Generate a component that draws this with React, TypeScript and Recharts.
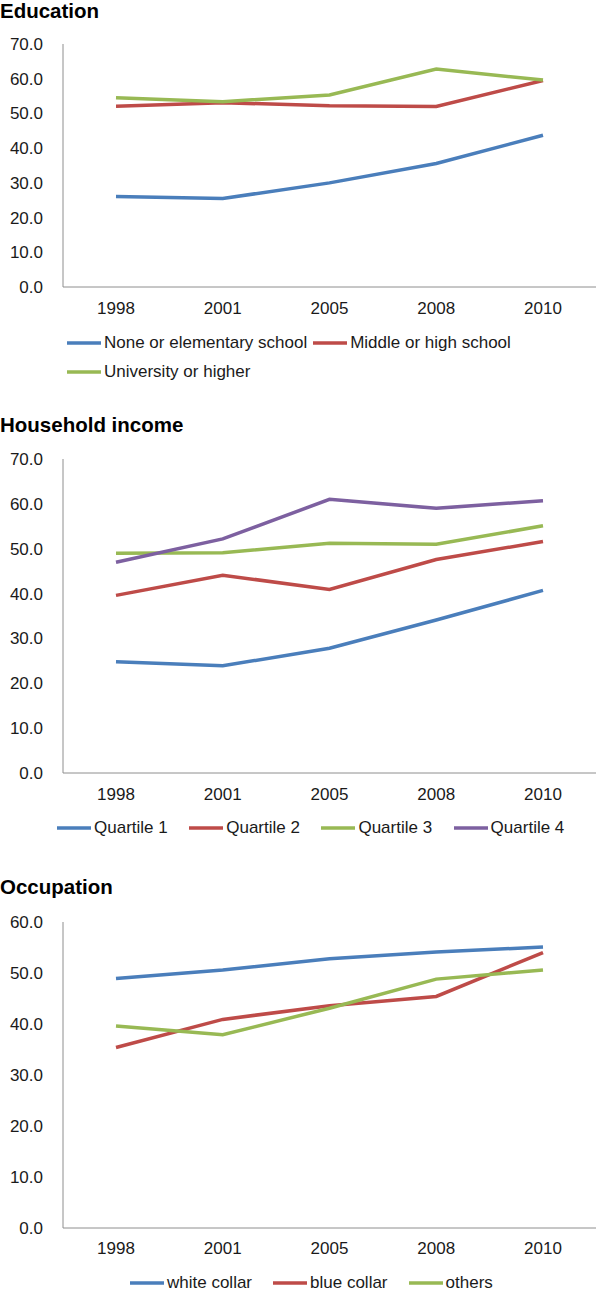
import React from "react";
import { LineChart, Line, XAxis, YAxis, Legend } from "recharts";

const YEARS = ["1998", "2001", "2005", "2008", "2010"];

const EDU_NONE = [26.1, 25.5, 30.0, 35.6, 43.7];
const EDU_MIDDLE = [52.1, 53.1, 52.2, 52.0, 59.5];
const EDU_UNIV = [54.5, 53.4, 55.3, 62.8, 59.6];

const INC_Q1 = [24.8, 23.9, 27.8, 34.1, 40.7];
const INC_Q2 = [39.6, 44.1, 40.9, 47.6, 51.6];
const INC_Q3 = [49.0, 49.1, 51.2, 51.0, 55.1];
const INC_Q4 = [47.0, 52.2, 61.0, 59.0, 60.7];

const OCC_WHITE = [48.9, 50.6, 52.8, 54.1, 55.1];
const OCC_BLUE = [35.4, 40.9, 43.6, 45.4, 54.0];
const OCC_OTHERS = [39.6, 37.9, 43.1, 48.8, 50.6];

const TICKS_70 = [0, 10, 20, 30, 40, 50, 60, 70];
const TICKS_60 = [0, 10, 20, 30, 40, 50, 60];

const BLUE = "#4a7ebb";
const RED = "#be4b48";
const GREEN = "#98b954";
const PURPLE = "#7d60a0";

const FONT = '"Liberation Sans", Arial, Helvetica, sans-serif';
const AXIS = "#8e8e8e";
const TEXT = "#1a1a1a";

type Series = { key: string; name: string; values: number[]; color: string };

type PanelProps = {
  title: string;
  series: Series[];
  ticks: number[];
  top: number;
  height: number;
  marginTop: number;
  marginBottom: number;
  titleTop: number;
  tickMargin: number;
  legendTop: number;
  legendLeft: number;
  legendWidth: number;
  legendGap: number;
  legendRowH: number;
  legendRows: number;
};

function Panel(p: PanelProps) {
  const data = YEARS.map((year, i) => {
    const row: Record<string, string | number> = { year };
    p.series.forEach((s) => (row[s.key] = s.values[i]));
    return row;
  });
  const legendH = p.legendRowH * p.legendRows;

  const renderLegend = () => (
    <div
      style={{
        display: "flex",
        flexWrap: "wrap",
        columnGap: p.legendGap,
        width: p.legendWidth,
        fontFamily: FONT,
        fontSize: 17,
        color: TEXT,
      }}
    >
      {p.series.map((s) => (
        <div key={s.key} style={{ display: "flex", alignItems: "center", height: p.legendRowH }}>
          <svg width={34} height={4} style={{ marginRight: 3 }}>
            <line x1={0} y1={2} x2={34} y2={2} stroke={s.color} strokeWidth={3.5} />
          </svg>
          <span>{s.name}</span>
        </div>
      ))}
    </div>
  );

  return (
    <div style={{ position: "absolute", left: 0, top: p.top, width: 600, height: p.height }}>
      <div
        style={{
          position: "absolute",
          left: 0,
          top: p.titleTop,
          fontFamily: FONT,
          fontWeight: "bold",
          fontSize: 20.5,
          lineHeight: "22px",
          color: "#000",
          zIndex: 2,
        }}
      >
        {p.title}
      </div>
      <LineChart
        width={600}
        height={p.height}
        data={data}
        margin={{ top: p.marginTop, right: 4, bottom: p.marginBottom, left: 0 }}
      >
        <XAxis
          dataKey="year"
          stroke={AXIS}
          tickLine={false}
          tickMargin={p.tickMargin}
          padding={{ left: 53, right: 53 }}
          tick={{ fill: TEXT, fontSize: 17, fontFamily: FONT }}
        />
        <YAxis
          width={63}
          domain={[0, p.ticks[p.ticks.length - 1]]}
          ticks={p.ticks}
          stroke={AXIS}
          tickLine={false}
          tickMargin={14}
          tickFormatter={(v: number) => v.toFixed(1)}
          tick={{ fill: TEXT, fontSize: 17, fontFamily: FONT }}
        />
        {p.series.map((s) => (
          <Line
            key={s.key}
            type="linear"
            dataKey={s.key}
            name={s.name}
            stroke={s.color}
            strokeWidth={3.5}
            dot={false}
            activeDot={false}
            isAnimationActive={false}
          />
        ))}
        <Legend
          verticalAlign="bottom"
          content={renderLegend}
          wrapperStyle={{
            left: p.legendLeft,
            top: p.legendTop,
            bottom: "auto",
            width: p.legendWidth,
            height: legendH,
          }}
        />
      </LineChart>
    </div>
  );
}

export default function App() {
  return (
    <div
      style={{
        position: "absolute",
        left: 0,
        top: 0,
        width: 600,
        height: 1292,
        background: "#fff",
        overflow: "hidden",
      }}
    >
      <Panel
        title="Education"
        series={[
          { key: "none", name: "None or elementary school", values: EDU_NONE, color: BLUE },
          { key: "middle", name: "Middle or high school", values: EDU_MIDDLE, color: RED },
          { key: "univ", name: "University or higher", values: EDU_UNIV, color: GREEN },
        ]}
        ticks={TICKS_70}
        top={0}
        height={400}
        marginTop={44}
        marginBottom={25}
        titleTop={0}
        tickMargin={9}
        legendTop={328}
        legendLeft={67}
        legendWidth={460}
        legendGap={6}
        legendRowH={29}
        legendRows={2}
      />
      <Panel
        title="Household income"
        series={[
          { key: "q1", name: "Quartile 1", values: INC_Q1, color: BLUE },
          { key: "q2", name: "Quartile 2", values: INC_Q2, color: RED },
          { key: "q3", name: "Quartile 3", values: INC_Q3, color: GREEN },
          { key: "q4", name: "Quartile 4", values: INC_Q4, color: PURPLE },
        ]}
        ticks={TICKS_70}
        top={400}
        height={460}
        marginTop={59}
        marginBottom={29}
        titleTop={14}
        tickMargin={9}
        legendTop={414}
        legendLeft={57}
        legendWidth={540}
        legendGap={21.5}
        legendRowH={28}
        legendRows={1}
      />
      <Panel
        title="Occupation"
        series={[
          { key: "white", name: "white collar", values: OCC_WHITE, color: BLUE },
          { key: "blue", name: "blue collar", values: OCC_BLUE, color: RED },
          { key: "others", name: "others", values: OCC_OTHERS, color: GREEN },
        ]}
        ticks={TICKS_60}
        top={860}
        height={432}
        marginTop={62}
        marginBottom={6}
        titleTop={16}
        tickMargin={8}
        legendTop={409}
        legendLeft={130}
        legendWidth={460}
        legendGap={21}
        legendRowH={28}
        legendRows={1}
      />
    </div>
  );
}
